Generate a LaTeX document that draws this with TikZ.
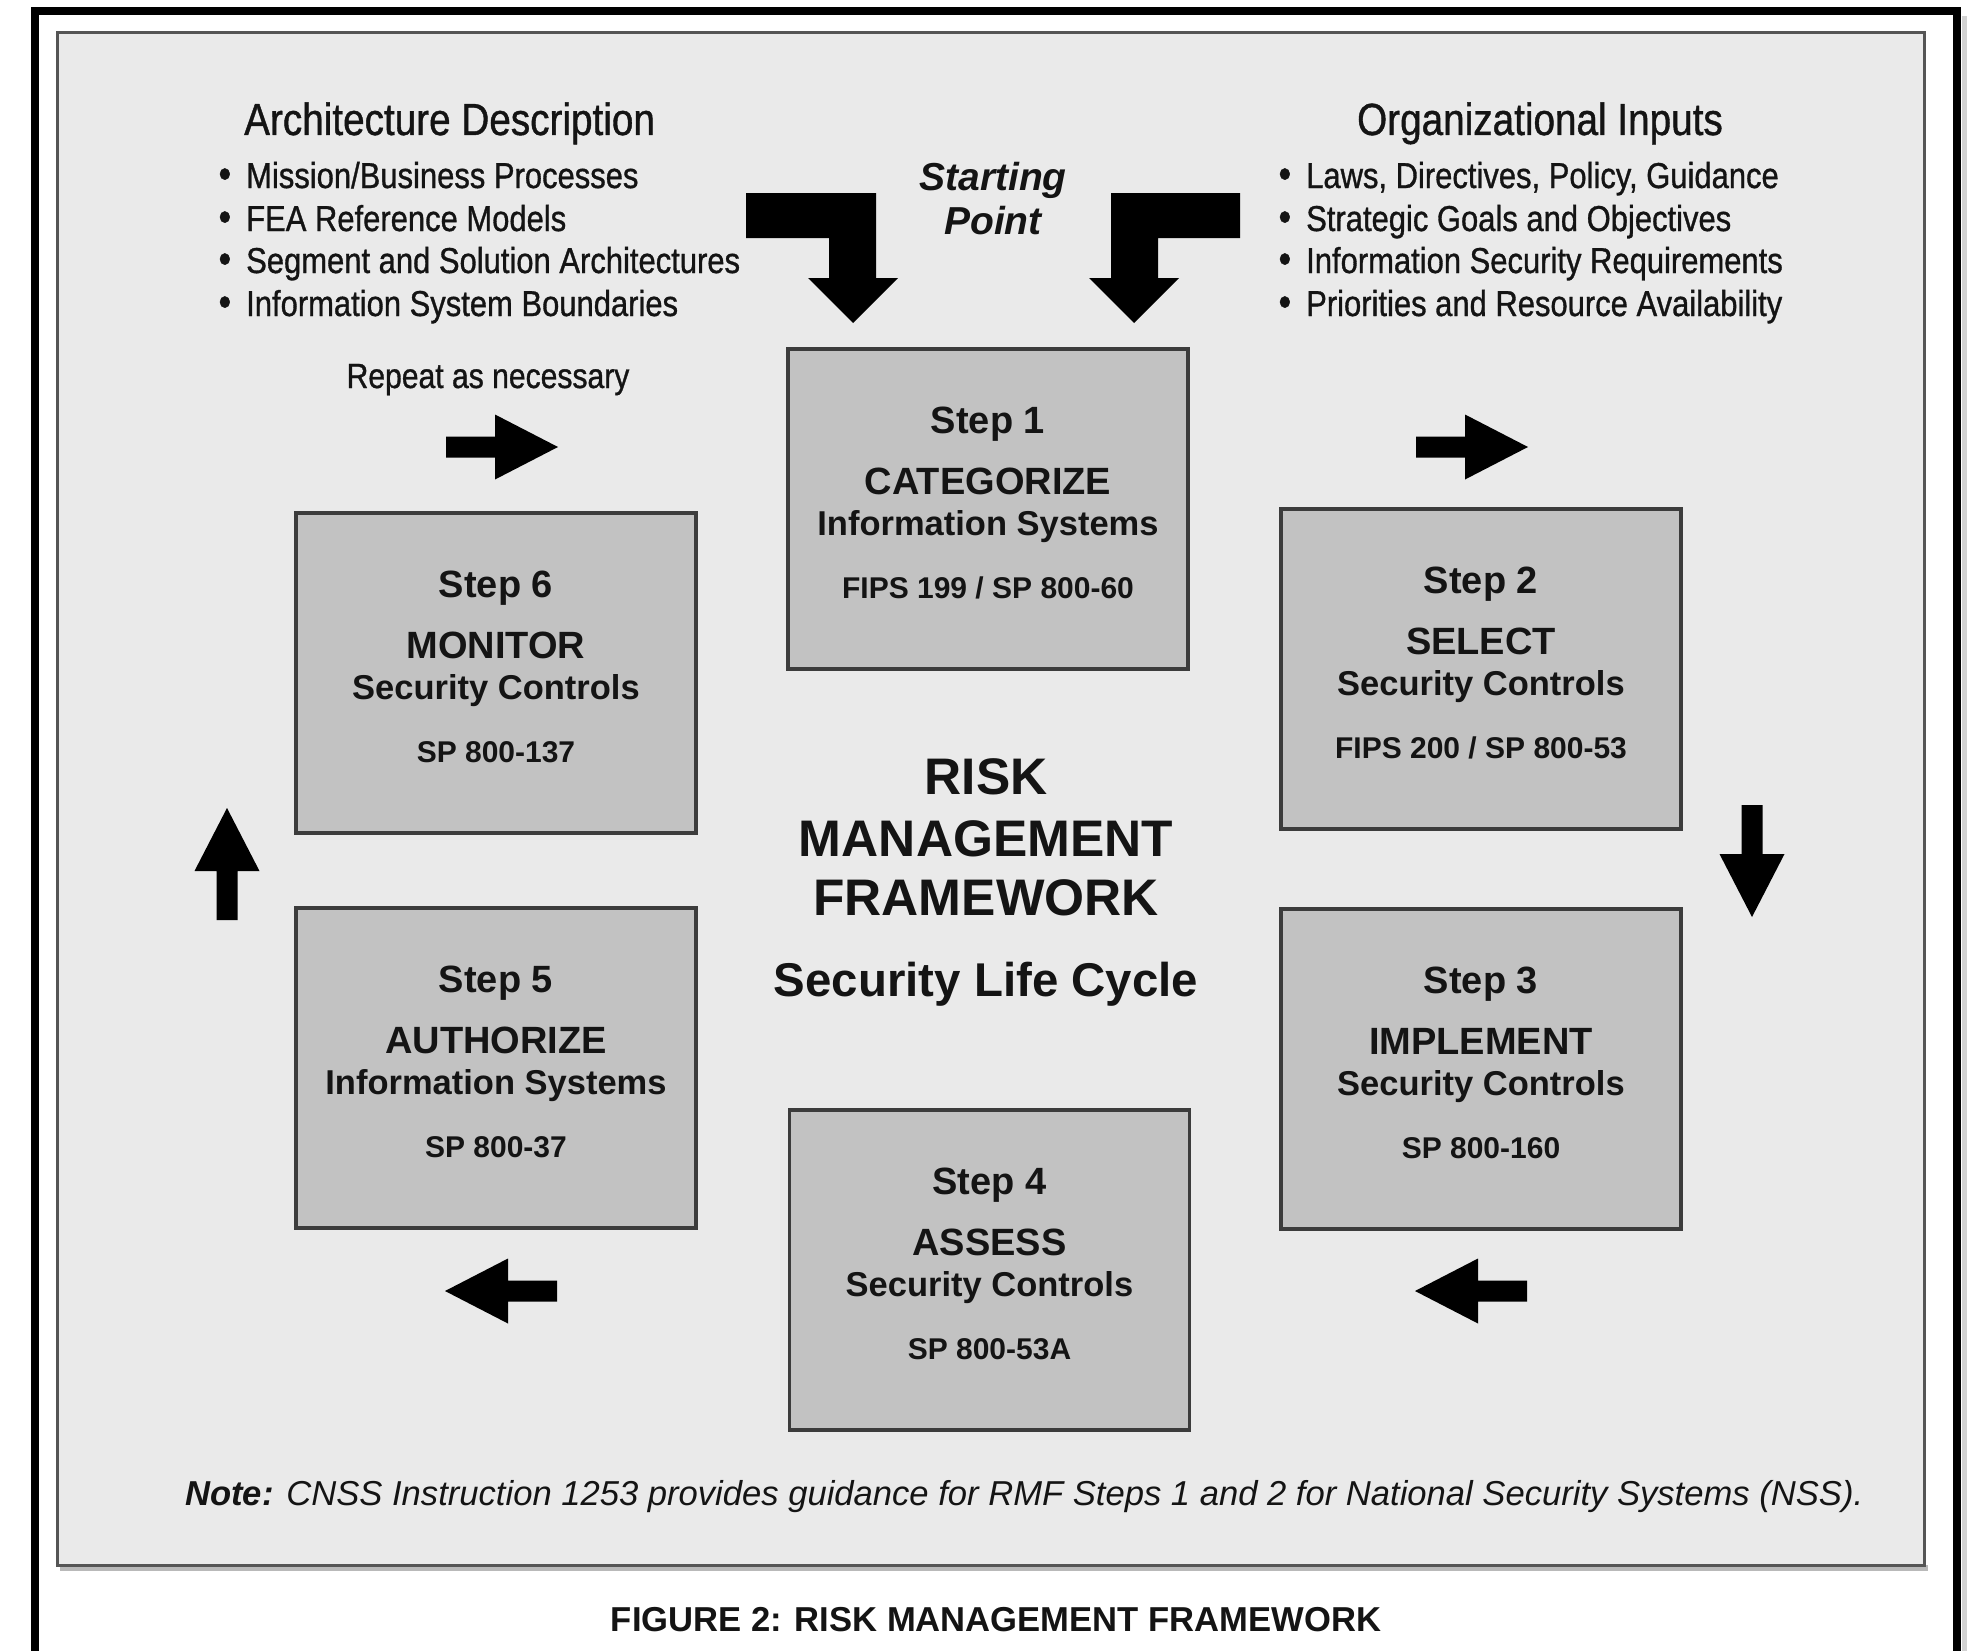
\documentclass[tikz,border=0pt]{standalone}
\usepackage{fontspec}
\setmainfont{Liberation Sans}
\newfontfamily\narrowfont[FakeStretch=0.86,FakeBold=0.9]{Liberation Sans}
\usetikzlibrary{calc}
\definecolor{panel}{HTML}{EAEAEA}
\definecolor{panelline}{HTML}{555555}
\definecolor{boxfill}{HTML}{C2C2C2}
\definecolor{boxline}{HTML}{3C3C3C}
\definecolor{ink}{HTML}{141414}
\newcommand\fs[1]{\fontsize{#1}{#1}\selectfont}
\newcommand\blt{\llap{{\fontsize{42}{42}\selectfont\textbullet}\hspace{15pt}}}
\newcommand\rmfstep[6]{%
  \node[stepbox] (#1) at (#2) {};
  \node[steplbl] (#1-a) at ($(#1.north)+(0,86.5)$) {#3};
  \node[steplbl] (#1-b) at ($(#1.north)+(0,147.5)$) {#4};
  \node[stepsub] (#1-c) at ($(#1.north)+(0,188)$) {#5};
  \node[stepref] (#1-d) at ($(#1.north)+(0,251.5)$) {#6};
}
\begin{document}
\begin{tikzpicture}[x=1pt,y=-1pt,
  stepbox/.style={draw=boxline, fill=boxfill, line width=3.5pt, minimum width=400pt, minimum height=320pt, inner sep=0pt},
  txt/.style={inner sep=0pt, anchor=base, text=ink},
  steplbl/.style={txt, font=\bfseries\fs{38}},
  stepsub/.style={txt, font=\bfseries\fs{34.5}},
  stepref/.style={txt, font=\bfseries\fs{30}},
  hdr/.style={txt, font=\narrowfont\fs{45}},
  item/.style={txt, anchor=base west, font=\narrowfont\fs{36}},
  rmf/.style={txt, font=\bfseries\fs{51.4}},
  barrow/.pic={\fill[black] (0,-10.5) -- (49,-10.5) -- (49,-32.5) -- (112,0) -- (49,32.5) -- (49,10.5) -- (0,10.5) -- cycle;}
]
\useasboundingbox (0,0) rectangle (1979,1651);
\fill[white] (0,0) rectangle (1979,1651);
\begin{scope}
  \clip (0,0) rectangle (1979,1651);
  \draw[gray!35, line width=5pt] (1964,16) -- (1964,1660);
  \draw[line width=8pt] (35,1660) -- (35,11) -- (1957,11) -- (1957,1660);
\end{scope}
% panel
\fill[gray!55] (60,1565) rectangle (1928,1571);
\draw[panelline, line width=3pt, fill=panel] (57.5,32.5) rectangle (1924.5,1565);

% step boxes
\rmfstep{s1}{988,509}{Step 1}{CATEGORIZE}{Information Systems}{FIPS 199 / SP 800-60}
\rmfstep{s2}{1481,669}{Step 2}{SELECT}{Security Controls}{FIPS 200 / SP 800-53}
\rmfstep{s3}{1481,1069}{Step 3}{IMPLEMENT}{Security Controls}{SP 800-160}
\rmfstep{s4}{989.5,1270}{Step 4}{ASSESS}{Security Controls}{SP 800-53A}
\rmfstep{s5}{496,1068}{Step 5}{AUTHORIZE}{Information Systems}{SP 800-37}
\rmfstep{s6}{496,673}{Step 6}{MONITOR}{Security Controls}{SP 800-137}

% centre title
\node[rmf] (risk) at (986,794) {RISK};
\node[rmf] (mgmt) at (986,856) {MANAGEMENT};
\node[rmf] (fw) at (986,915) {FRAMEWORK};
\node[txt, font=\bfseries\fs{47.4}] (slc) at (986,996) {Security Life Cycle};

% headers and lists
\node[hdr, anchor=base west] (archhead) at (244,135) {Architecture Description};
\node[item] (l1) at (246,188) {\blt Mission/Business Processes};
\node[item] (l2) at (246,231) {\blt FEA Reference Models};
\node[item] (l3) at (246,273) {\blt Segment and Solution Architectures};
\node[item] (l4) at (246,316) {\blt Information System Boundaries};

\node[hdr] (orghead) at (1540,135) {Organizational Inputs};
\node[item] (r1) at (1306,188) {\blt Laws, Directives, Policy, Guidance};
\node[item] (r2) at (1306,231) {\blt Strategic Goals and Objectives};
\node[item] (r3) at (1306,273) {\blt Information Security Requirements};
\node[item] (r4) at (1306,316) {\blt Priorities and Resource Availability};

\node[txt, font=\narrowfont\fs{35}] (repeat) at (488,388) {Repeat as necessary};

% starting point
\node[txt, font=\bfseries\itshape\fs{39}] (start1) at (993,190) {Starting};
\node[txt, font=\bfseries\itshape\fs{39}] (start2) at (993,234) {Point};
\fill[black] (746,193) -- (876,193) -- (876,278) -- (898,278) -- (853,323) -- (808,278) -- (829,278) -- (829,238) -- (746,238) -- cycle;
\fill[black] (1240,193) -- (1111,193) -- (1111,278) -- (1089,278) -- (1134,323) -- (1179,278) -- (1158,278) -- (1158,238) -- (1240,238) -- cycle;

% cycle arrows
\pic at (446,447) {barrow};
\pic at (1416,447) {barrow};
\pic[rotate=-90] at (1752,805) {barrow};
\pic[rotate=180] at (1527,1291) {barrow};
\pic[rotate=180] at (557,1291) {barrow};
\pic[rotate=90] at (227,920) {barrow};

% note and caption
\node[txt, anchor=base west, font=\itshape\fs{34.6}] (note) at (185,1505) {\textbf{Note:} CNSS Instruction 1253 provides guidance for RMF Steps 1 and 2 for National Security Systems (NSS).};
\node[txt, font=\bfseries\fs{34.6}] (caption) at (996,1631) {FIGURE 2: RISK MANAGEMENT FRAMEWORK};
\end{tikzpicture}
\end{document}
